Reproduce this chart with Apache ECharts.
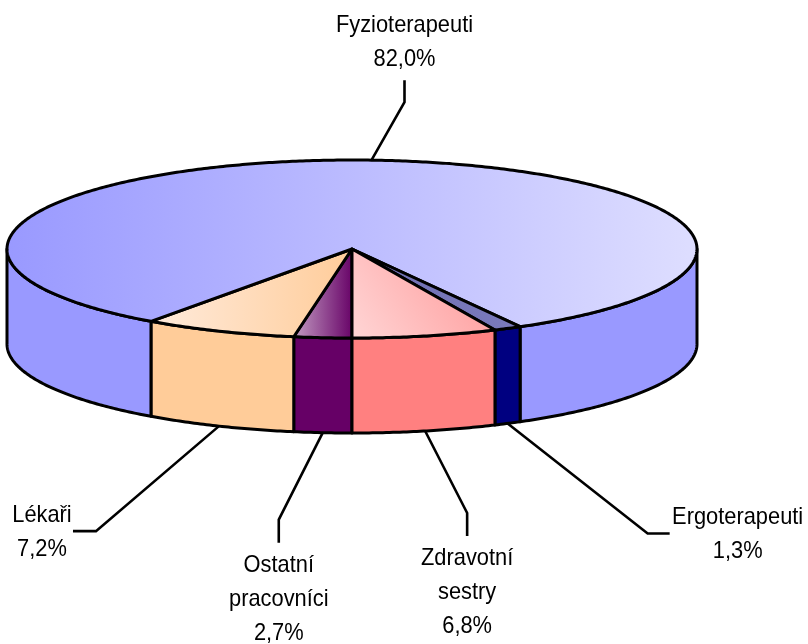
<!DOCTYPE html>
<html>
<head>
<meta charset="utf-8">
<style>
  html, body { margin: 0; padding: 0; background: #fff; }
  #chart { width: 808px; height: 644px; }
</style>
<script src="https://cdn.jsdelivr.net/npm/echarts@6/dist/echarts.min.js"></script>
</head>
<body>
<div id="chart"></div>
<script>
// order: clockwise from the bottom of the pie
const categories = ['Ostatní\npracovníci', 'Lékaři', 'Fyzioterapeuti', 'Ergoterapeuti', 'Zdravotní\nsestry'];
const values = [2.7, 7.2, 82.0, 1.3, 6.8];

const wallColors = ['#660066', '#FFCC99', '#9999FF', '#000080', '#FF8080'];
const topColors = [
  { x: 0, y: 0, x2: 1, y2: 0, from: '#C49FC4', to: '#660066' },
  { x: 0, y: 0, x2: 1, y2: 0, from: '#FFEBDC', to: '#FFCC99' },
  { x: 0, y: 0, x2: 1, y2: 0, from: '#9999FF', to: '#DEDEFF' },
  { x: 0, y: 1, x2: 1, y2: 0, from: '#6A6AAE', to: '#7F7FC0' },
  { x: 0, y: 1, x2: 1, y2: 0, from: '#FFD6D6', to: '#FF9494' }
];

// elbow and line end of each leader, relative to where it leaves the pie
const leaders = [
  { elbow: [-44, 87], end: [-44, 110], text: [-44, 167] },
  { elbow: [-123, 105], end: [-146, 105], text: [-177, 106] },
  { elbow: [33, -58], end: [33, -80], text: [33, -118] },
  { elbow: [140, 110], end: [162, 110], text: [230, 111] },
  { elbow: [42, 82], end: [42, 105], text: [42, 161] }
];

const cx = 352, cy = 249, rx = 345, ry = 89, depth = 95;
const total = values.reduce((a, b) => a + b, 0);

// angle is measured clockwise from the bottom of the ellipse
const pt = (t, dy) => [cx - rx * Math.sin(t), cy + ry * Math.cos(t) + (dy || 0)];

const arc = (a, b, dy) => {
  const n = Math.max(2, Math.ceil(Math.abs(b - a) / 0.01));
  const out = [];
  for (let i = 0; i <= n; i++) out.push(pt(a + (b - a) * i / n, dy));
  return out;
};

const startAngle = (i) => values.slice(0, i).reduce((a, b) => a + b, 0) / total * Math.PI * 2;

const wall = (a, b, color) => ({
  type: 'polygon',
  shape: { points: arc(a, b, 0).concat(arc(b, a, depth)) },
  style: { fill: color, stroke: '#000', lineWidth: 3, lineJoin: 'round' }
});

function renderSlice(params, api) {
  const i = params.dataIndex;
  const a = startAngle(i), b = a + api.value(0) / total * Math.PI * 2;
  const children = [];
  // only the part of the rim on the near half of the ellipse is visible
  const q = Math.PI / 2;
  [[-q, q], [3 * q, 5 * q]].forEach(([lo, hi]) => {
    const s = Math.max(a, lo), e = Math.min(b, hi);
    if (e > s) children.push(wall(s, e, wallColors[i]));
  });
  const c = topColors[i];
  children.push({
    type: 'polygon',
    shape: { points: [[cx, cy]].concat(arc(a, b, 0)) },
    style: {
      fill: new echarts.graphic.LinearGradient(c.x, c.y, c.x2, c.y2, [
        { offset: 0, color: c.from }, { offset: 1, color: c.to }
      ]),
      stroke: '#000', lineWidth: 3, lineJoin: 'round'
    }
  });
  return { type: 'group', children };
}

function renderLabel(params, api) {
  const i = params.dataIndex;
  const mid = startAngle(i) + api.value(0) / total * Math.PI;
  const p = pt(mid, Math.cos(mid) > 0 ? depth : 0);
  const l = leaders[i];
  const at = (d) => [p[0] + d[0], p[1] + d[1]];
  return {
    type: 'group',
    children: [
      {
        type: 'polyline',
        shape: { points: [p, at(l.elbow), at(l.end)] },
        style: { fill: null, stroke: '#000', lineWidth: 2.6 }
      },
      {
        type: 'text',
        x: at(l.text)[0],
        y: at(l.text)[1],
        // the original labels are a condensed sans, squeeze Liberation Sans to match
        scaleX: 0.91,
        style: {
          text: categories[i] + '\n' + api.value(0).toFixed(1).replace('.', ',') + '%',
          font: '24px "Liberation Sans", Arial, sans-serif',
          lineHeight: 34,
          fill: '#000',
          align: 'center',
          verticalAlign: 'middle'
        }
      }
    ]
  };
}

var myChart = echarts.init(document.getElementById('chart'));

const seriesData = values.map((v) => [v]);

var option = {
  animation: false,
  series: [
    { type: 'custom', coordinateSystem: 'none', renderItem: renderSlice, data: seriesData, silent: true },
    { type: 'custom', coordinateSystem: 'none', renderItem: renderLabel, data: seriesData, silent: true }
  ]
};

myChart.setOption(option);
</script>
</body>
</html>
